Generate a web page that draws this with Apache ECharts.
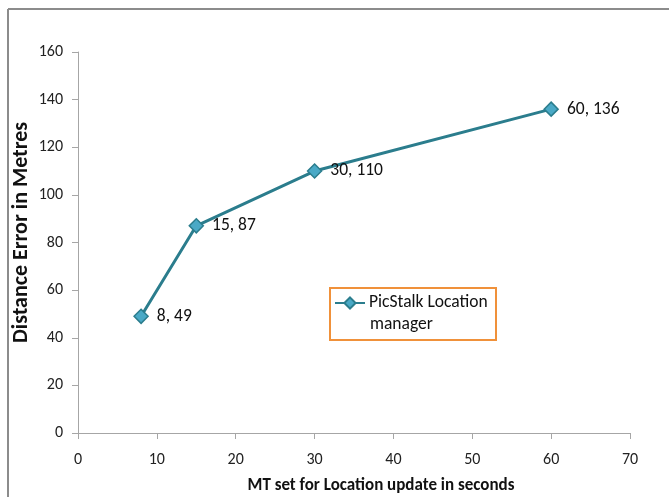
<!DOCTYPE html>
<html><head><meta charset="utf-8">
<script src="https://cdn.jsdelivr.net/npm/echarts@6/dist/echarts.min.js"></script>
<style>html,body{margin:0;padding:0;background:#fff}#c{width:669px;height:497px}</style>
</head><body><div id="c"></div>
<script>
const seriesName = 'PicStalk Location manager';
const legendLines = ['PicStalk Location', 'manager'];
const xValues = [8, 15, 30, 60];
const yValues = [49, 87, 110, 136];
const xTitle = 'MT set for Location update in seconds';
const yTitle = 'Distance Error in Metres';

const chart = echarts.init(document.getElementById('c'));
const font = 'Carlito, Lato, "Open Sans", sans-serif';
chart.setOption({
  animation: false,
  backgroundColor: '#fff',
  grid: {left: 78, right: 39, top: 52, bottom: 64, containLabel: false, outerBoundsMode: 'none'},
  xAxis: {
    type: 'value', min: 0, max: 70, interval: 10,
    name: xTitle, nameLocation: 'middle', nameGap: 44, nameMoveOverlap: false,
    nameTextStyle: {fontFamily: font, fontSize: 17, fontWeight: 'bold', color: '#111', padding: [0, 0, 0, 54]},
    axisLine: {show: true, lineStyle: {color: '#a6a6a6', width: 1}},
    axisTick: {show: true, length: 6, lineStyle: {color: '#a6a6a6'}},
    axisLabel: {fontFamily: font, fontSize: 16, color: '#222', margin: 19},
    splitLine: {show: false}
  },
  yAxis: {
    type: 'value', min: 0, max: 160, interval: 20,
    name: yTitle, nameLocation: 'middle', nameGap: 46, nameRotate: 90, nameMoveOverlap: false,
    nameTextStyle: {fontFamily: font, fontSize: 22, fontWeight: 'bold', color: '#111', padding: [0, 0, 0, 20]},
    axisLine: {show: true, lineStyle: {color: '#a6a6a6', width: 1}},
    axisTick: {show: true, length: 6, lineStyle: {color: '#a6a6a6'}},
    axisLabel: {fontFamily: font, fontSize: 16, color: '#222', margin: 15},
    splitLine: {show: false}
  },
  legend: {
    left: 334, top: 294,
    padding: 0,
    itemWidth: 30, itemHeight: 14, itemGap: 6,
    formatter: () => legendLines[0],
    textStyle: {fontFamily: font, fontSize: 17.5, color: '#111', padding: [0, 0, 0, -1]},
    data: [seriesName]
  },
  graphic: [
    {type: 'line', shape: {x1: 8, y1: 9, x2: 669, y2: 9}, style: {stroke: '#8c8c8c', lineWidth: 2}},
    {type: 'line', shape: {x1: 8, y1: 9, x2: 8, y2: 497}, style: {stroke: '#8c8c8c', lineWidth: 2}},
    {type: 'rect', shape: {x: 330, y: 288, width: 166, height: 52}, style: {fill: 'none', stroke: '#f0913a', lineWidth: 2}, z: 0},
    {type: 'text', left: 370, top: 316, style: {text: legendLines[1], font: '17.5px ' + font, fill: '#111'}}
  ],
  series: [{
    name: seriesName,
    type: 'line',
    data: xValues.map((x, i) => [x, yValues[i]]),
    symbol: 'diamond', symbolSize: 14,
    lineStyle: {color: '#2b7d8d', width: 3},
    itemStyle: {color: '#4aa9c6', borderColor: '#2b7d8d', borderWidth: 1.5},
    label: {
      show: true, position: 'right', distance: 8,
      fontFamily: font, fontSize: 17.5, color: '#111',
      formatter: p => p.value[0] + ', ' + p.value[1]
    }
  }]
});
</script></body></html>
